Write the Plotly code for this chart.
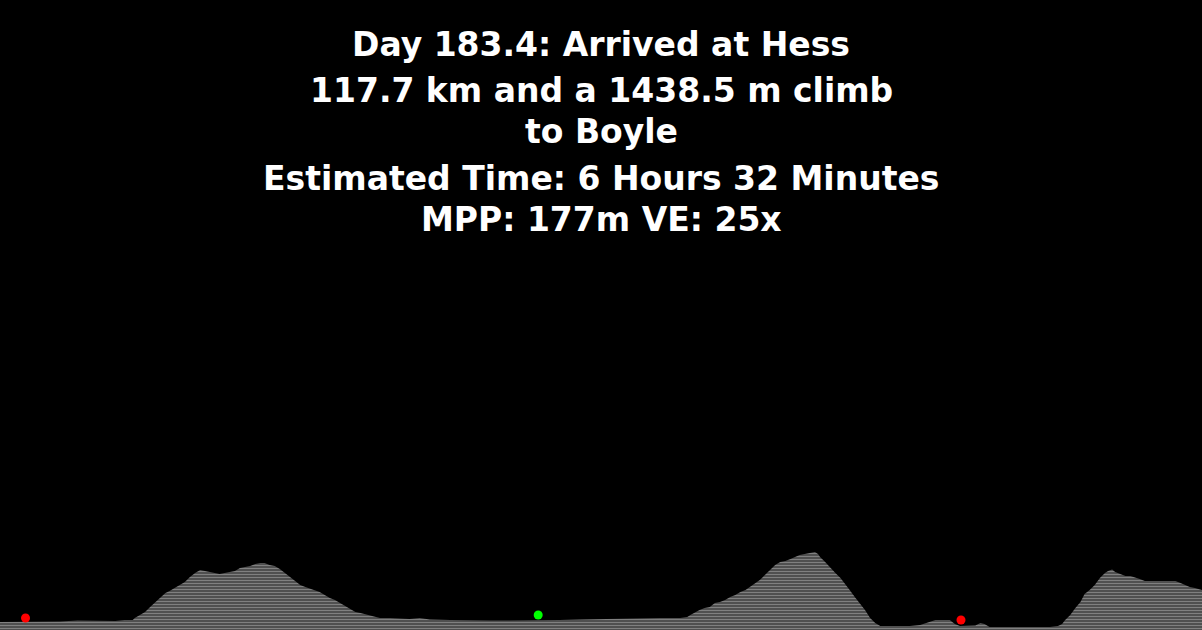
import plotly.graph_objects as go

# Elevation profile (distance in km, elevation in m)
distance_km = [0.0, 0.5, 2.0, 3.9, 5.9, 7.6, 9.8, 11.3, 12.2, 13.0, 13.2, 13.7, 14.2, 14.7, 15.2, 15.7,
               16.2, 16.6, 17.1, 17.6, 18.1, 18.6, 19.1, 19.6, 20.1, 20.6, 21.1, 21.5, 22.0, 22.5, 23.0,
               23.5, 24.0, 24.5, 25.0, 25.5, 25.9, 26.4, 26.9, 27.4, 27.9, 28.4, 28.9, 29.4, 29.9, 30.4,
               30.8, 31.3, 31.8, 32.3, 32.8, 33.3, 33.8, 34.3, 34.8, 35.3, 35.7, 36.2, 36.7, 37.2, 38.2,
               39.2, 40.1, 41.1, 42.1, 44.1, 46.0, 48.0, 49.9, 52.9, 54.8, 56.8, 58.8, 60.7, 62.7, 64.6,
               66.6, 67.3, 67.6, 68.1, 68.5, 69.0, 69.5, 70.0, 70.5, 71.0, 71.5, 72.0, 72.5, 73.0, 73.4,
               73.9, 74.4, 74.9, 75.4, 75.9, 76.4, 76.9, 77.4, 77.8, 78.3, 78.8, 79.3, 79.8, 80.1, 80.3,
               80.8, 81.3, 81.8, 82.3, 82.7, 83.2, 83.7, 84.2, 84.7, 85.2, 85.7, 86.2, 87.6, 89.1, 90.1,
               91.1, 91.6, 93.0, 93.5, 94.0, 95.5, 96.0, 96.4, 96.9, 99.9, 102.8, 103.6, 104.0, 104.3,
               104.8, 105.3, 105.8, 106.2, 106.7, 107.2, 107.7, 108.2, 108.5, 108.9, 109.2, 109.7, 110.2,
               110.7, 111.1, 111.6, 112.1, 113.6, 115.1, 115.6, 116.0, 116.5, 117.0, 117.7]
elevation_m = [32, 32, 34, 34, 34, 38, 38, 36, 40, 40, 48, 60, 72, 92, 112, 132,
               148, 156, 168, 180, 192, 212, 228, 240, 236, 232, 228, 224, 228, 232, 236,
               248, 252, 256, 264, 268, 268, 260, 256, 244, 228, 212, 196, 180, 172, 164,
               160, 152, 140, 128, 120, 108, 96, 84, 72, 68, 64, 60, 52, 48, 48,
               46, 44, 48, 42, 40, 38, 38, 38, 38, 40, 42, 44, 46, 46, 48,
               48, 52, 60, 72, 80, 88, 92, 108, 112, 120, 132, 140, 152, 160, 172,
               184, 200, 220, 240, 260, 272, 276, 284, 292, 300, 304, 308, 312, 304, 292,
               272, 248, 228, 208, 188, 160, 132, 108, 80, 48, 28, 16, 16, 16, 20,
               32, 40, 40, 24, 16, 18, 28, 24, 12, 12, 12, 16, 24, 40,
               60, 88, 112, 144, 160, 180, 208, 228, 236, 242, 232, 224, 216,
               216, 212, 204, 196, 196, 196, 188, 180, 172, 168, 160]

# Waypoints
point_km = [2.5, 52.7, 94.1]
point_elev = [48, 60, 40]
point_colors = ["#ff0000", "#00ff00", "#ff0000"]

title_lines = [
    "Day 183.4: Arrived at Hess",
    "117.7 km and a 1438.5 m climb",
    "to Boyle",
    "Estimated Time: 6 Hours 32 Minutes",
    "MPP: 177m VE: 25x",
]
title_y_px = [45, 91, 131, 178, 219]

fig = go.Figure()
fig.add_trace(go.Scatter(
    x=distance_km, y=elevation_m, mode="lines",
    line=dict(width=0, color="white"),
    fill="tozeroy",
    fillcolor="black",
    fillpattern=dict(shape="-", fgcolor="white", bgcolor="black", size=3, solidity=0.75),
    hoverinfo="skip", showlegend=False,
))
fig.add_trace(go.Scatter(
    x=point_km, y=point_elev, mode="markers",
    marker=dict(size=9, color=point_colors, line=dict(width=0)),
    showlegend=False,
))

for txt, py in zip(title_lines, title_y_px):
    fig.add_annotation(
        text=txt, x=0.5, y=1 - py / 630, xref="paper", yref="paper",
        xanchor="center", yanchor="middle", showarrow=False,
        font=dict(family="DejaVu Sans", size=33, color="white", weight="bold"),
    )

fig.update_layout(
    width=1202, height=630,
    margin=dict(l=0, r=0, t=0, b=0),
    paper_bgcolor="black", plot_bgcolor="black",
    xaxis=dict(range=[0, 117.7], visible=False, fixedrange=True),
    yaxis=dict(range=[0, 2520], visible=False, fixedrange=True),
)
fig.write_html(
    "out.html",
    config={"displayModeBar": False},
    post_script="document.body.style.margin='0';document.body.style.background='black';",
)
